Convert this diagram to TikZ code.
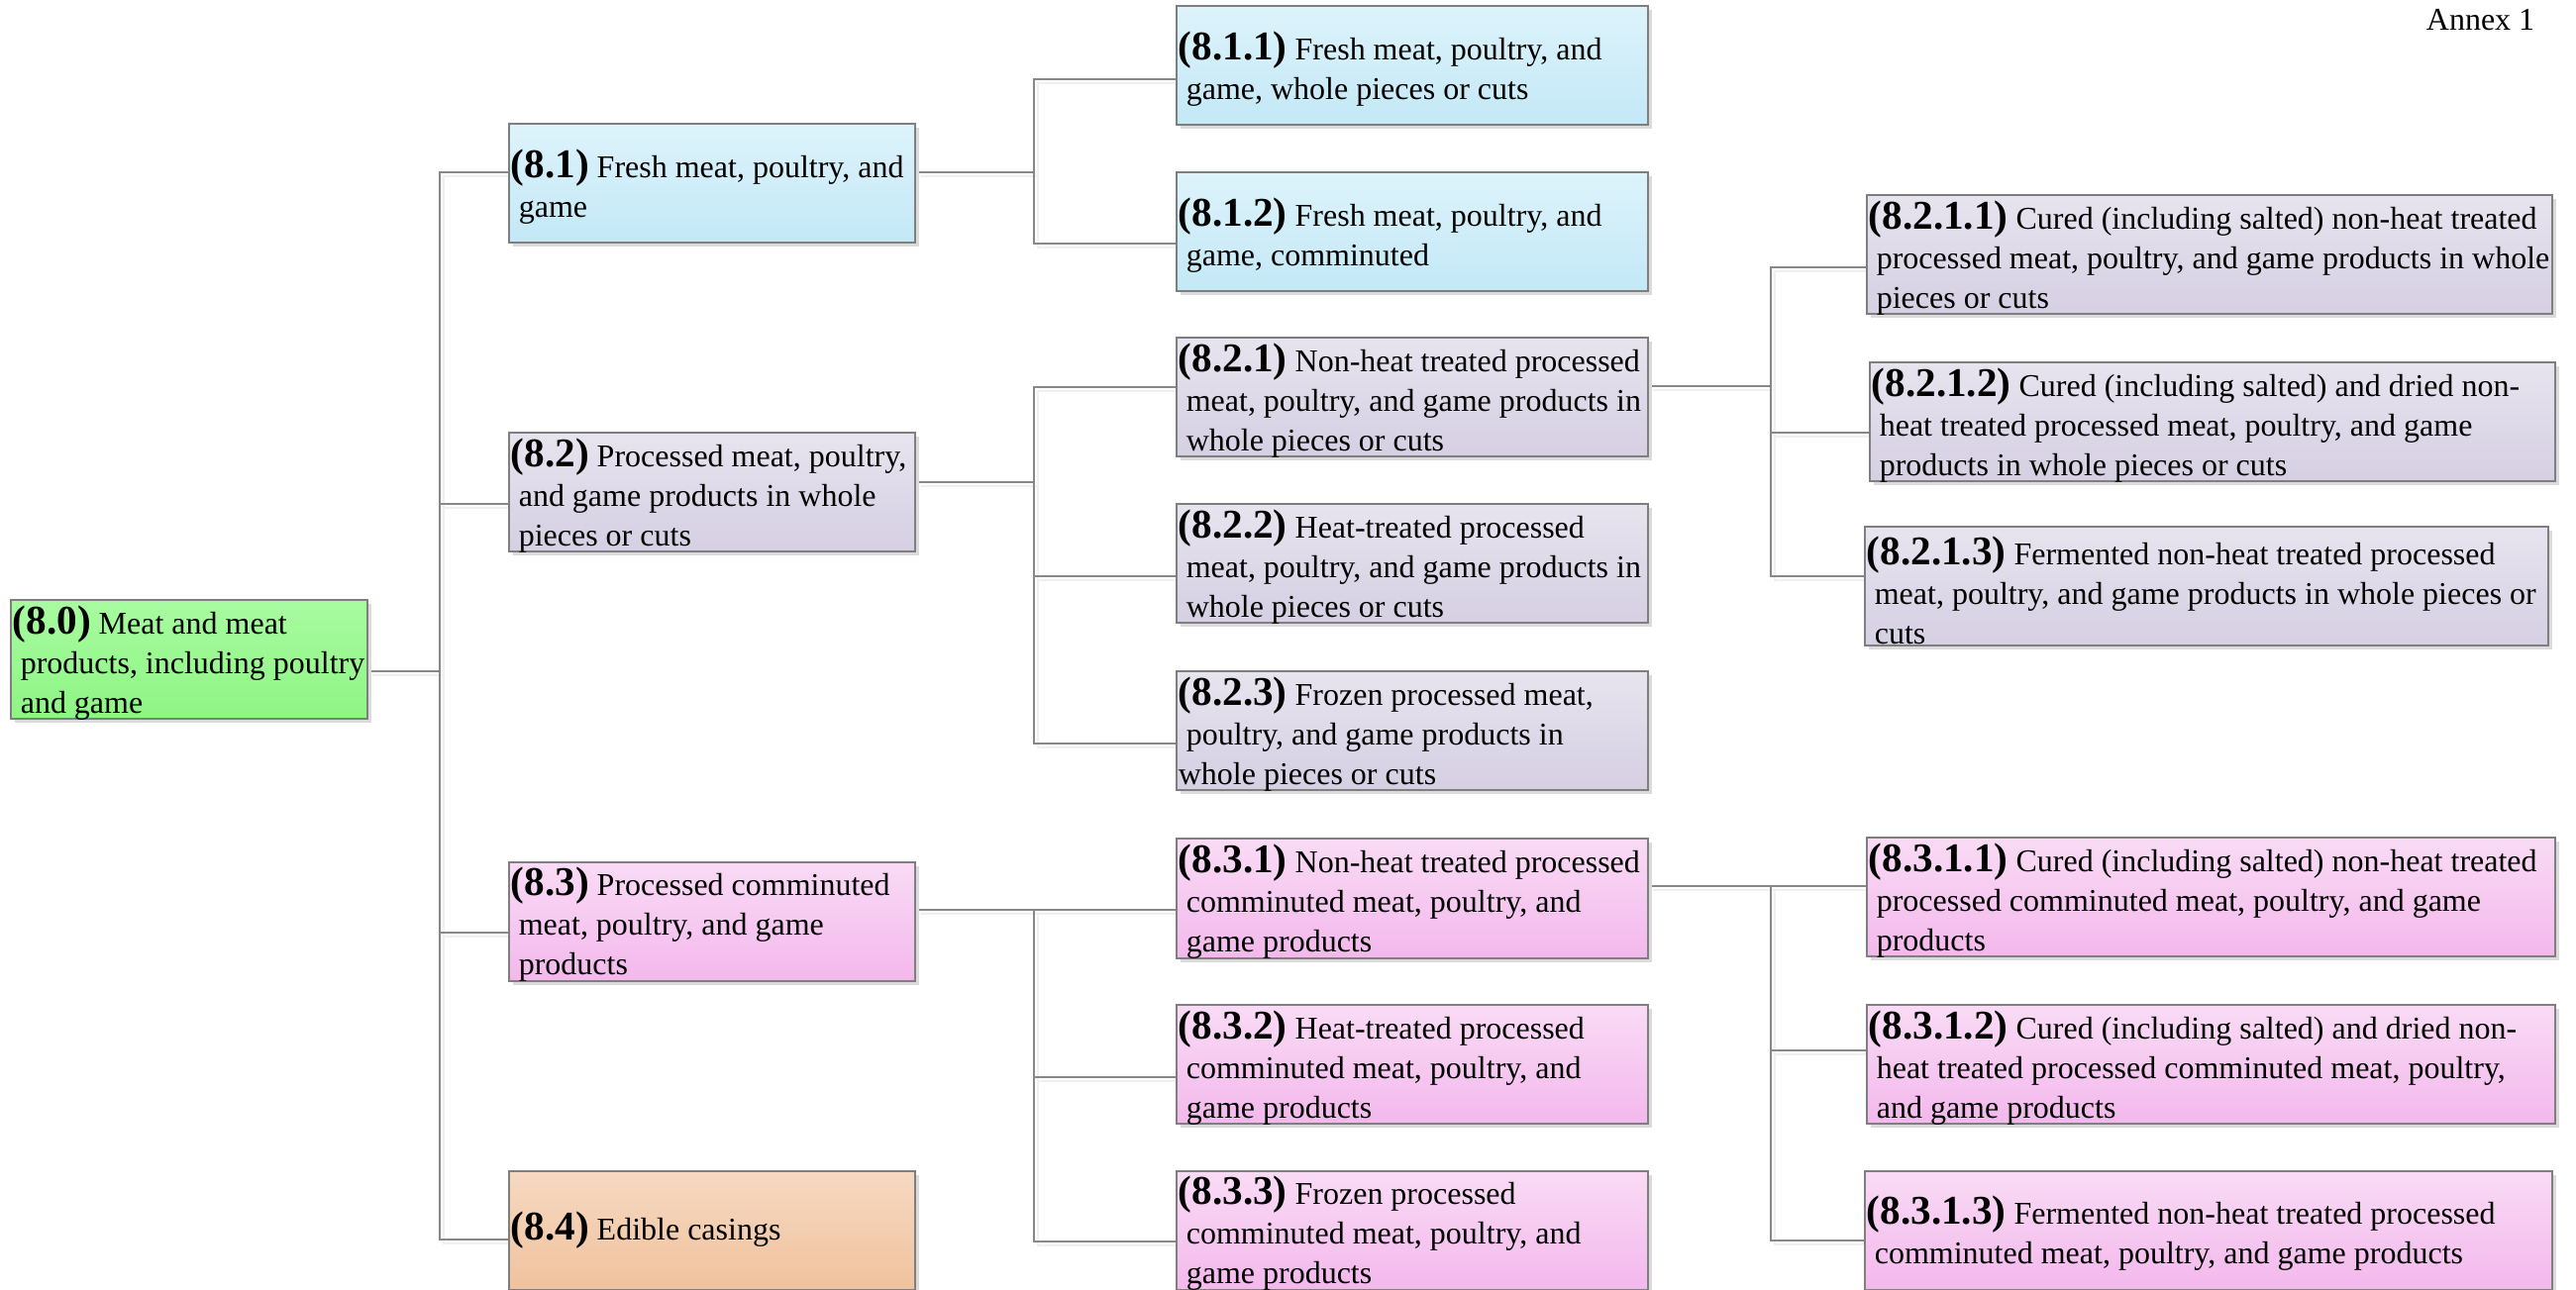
\documentclass[tikz,border=0pt]{standalone}
\usepackage{fontspec}
\setmainfont{Liberation Serif}
\usetikzlibrary{shadows}
\definecolor{grT}{HTML}{A8FBA0}
\definecolor{grB}{HTML}{8EF584}
\definecolor{blT}{HTML}{DDF3FB}
\definecolor{blB}{HTML}{C3E8F6}
\definecolor{lvT}{HTML}{E7E4EF}
\definecolor{lvB}{HTML}{D5CFE2}
\definecolor{pkT}{HTML}{F9DBF5}
\definecolor{pkB}{HTML}{F3B8EC}
\definecolor{orT}{HTML}{F6D9C2}
\definecolor{orB}{HTML}{F0C29E}
\definecolor{boxline}{HTML}{7F7F7F}
\definecolor{conline}{HTML}{888888}
\newcommand\bnum[1]{{\fontsize{10.3}{10}\selectfont\bfseries(#1)}}
\newcommand\lind{\hspace*{2pt}}
\pgfdeclarelayer{bg}
\pgfsetlayers{bg,main}
\tikzset{
  box/.style={rectangle, draw=boxline, line width=0.5pt, inner sep=0pt,
    drop shadow={shadow xshift=1pt, shadow yshift=-1pt, fill=black!14, opacity=1}},
  cgreen/.style={top color=grT, bottom color=grB},
  cblue/.style={top color=blT, bottom color=blB},
  clav/.style={top color=lvT, bottom color=lvB},
  cpink/.style={top color=pkT, bottom color=pkB},
  corange/.style={top color=orT, bottom color=orB},
  wA/.style={minimum width=90pt},
  wB/.style={minimum width=102.5pt},
  wC/.style={minimum width=119pt},
  hh/.style={minimum height=30pt},
  txt/.style={anchor=west, align=left, inner sep=0pt, font=\fontsize{8}{10}\selectfont},
  conn/.style={draw=conline, line width=0.55pt},
  connshadow/.style={draw=black!6, line width=0.55pt},
}
\newcommand\conns[1]{%
  % level 0 -> 1
  \draw[#1] ([yshift=-3pt]n80.east) -- ++(72,0) |- ([yshift=2.9pt]n81.west);
  \draw[#1] ([yshift=-3pt]n80.east) -- ++(72,0) |- ([yshift=-2.9pt]n82.west);
  \draw[#1] ([yshift=-3pt]n80.east) -- ++(72,0) |- ([yshift=-2.9pt]n83.west);
  \draw[#1] ([yshift=-3pt]n80.east) -- ++(72,0) |- ([yshift=-2.3pt]n84.west);
  % 8.1
  \draw[#1] ([yshift=2.9pt]n81.east) -- ++(119,0) |- ([yshift=-3.4pt]n811.west);
  \draw[#1] ([yshift=2.9pt]n81.east) -- ++(119,0) |- ([yshift=-3pt]n812.west);
  % 8.2
  \draw[#1] ([yshift=2.6pt]n82.east) -- ++(119,0) |- ([yshift=2.5pt]n821.west);
  \draw[#1] ([yshift=2.6pt]n82.east) -- ++(119,0) |- ([yshift=-3.2pt]n822.west);
  \draw[#1] ([yshift=2.6pt]n82.east) -- ++(119,0) |- ([yshift=-3.2pt]n823.west);
  % 8.3
  \draw[#1] ([yshift=2.9pt]n83.east) -- ++(119,0) |- ([yshift=-2.9pt]n831.west);
  \draw[#1] ([yshift=2.9pt]n83.east) -- ++(119,0) |- ([yshift=-3.2pt]n832.west);
  \draw[#1] ([yshift=2.9pt]n83.east) -- ++(119,0) |- ([yshift=-2.9pt]n833.west);
  % 8.2.1
  \draw[#1] ([yshift=2.75pt]n821.east) -- ++(123,0) |- ([yshift=-3.2pt]n8211.west);
  \draw[#1] ([yshift=2.75pt]n821.east) -- ++(123,0) |- ([yshift=-2.6pt]n8212.west);
  \draw[#1] ([yshift=2.75pt]n821.east) -- ++(123,0) |- ([yshift=2.6pt]n8213.west);
  % 8.3.1
  \draw[#1] ([yshift=3.1pt]n831.east) -- ++(123,0) |- ([yshift=2.75pt]n8311.west);
  \draw[#1] ([yshift=3.1pt]n831.east) -- ++(123,0) |- ([yshift=3.5pt]n8312.west);
  \draw[#1] ([yshift=3.1pt]n831.east) -- ++(123,0) |- ([yshift=-2.6pt]n8313.west);
}
\begin{document}
\begin{tikzpicture}[x=0.25pt, y=-0.25pt]
\useasboundingbox (0,0) rectangle (2601,1303);

\node[font=\fontsize{8}{10}\selectfont, anchor=base east, inner sep=0pt] (annex) at (2560,31) {Annex 1};

% level 0
\node[box,cgreen,wA,hh] (n80) at (191,666) {};
\node[txt] (t80) at ([xshift=0.5pt,yshift=-0.9pt]n80.west) {\bnum{8.0} Meat and meat\\\lind products, including poultry\\\lind and game};

% level 1
\node[box,cblue,wB,hh] (n81) at (719,185.5) {};
\node[txt] (t81) at ([xshift=0.5pt,yshift=-0.9pt]n81.west) {\bnum{8.1} Fresh meat, poultry, and\\\lind game};
\node[box,clav,wB,hh] (n82) at (719,497.5) {};
\node[txt] (t82) at ([xshift=0.5pt,yshift=-0.9pt]n82.west) {\bnum{8.2} Processed meat, poultry,\\\lind and game products in whole\\\lind pieces or cuts};
\node[box,cpink,wB,hh] (n83) at (719,930.5) {};
\node[txt] (t83) at ([xshift=0.5pt,yshift=-0.9pt]n83.west) {\bnum{8.3} Processed comminuted\\\lind meat, poultry, and game\\\lind products};
\node[box,corange,wB,hh] (n84) at (719,1242.5) {};
\node[txt] (t84) at ([xshift=0.5pt]n84.west) {\bnum{8.4} Edible casings};

% level 2
\node[box,cblue,wC,hh] (n811) at (1426,66.5) {};
\node[txt] (t811) at ([xshift=0.5pt,yshift=-0.9pt]n811.west) {\bnum{8.1.1} Fresh meat, poultry, and\\\lind game, whole pieces or cuts};
\node[box,cblue,wC,hh] (n812) at (1426,234) {};
\node[txt] (t812) at ([xshift=0.5pt,yshift=-0.9pt]n812.west) {\bnum{8.1.2} Fresh meat, poultry, and\\\lind game, comminuted};
\node[box,clav,wC,hh] (n821) at (1426,401) {};
\node[txt] (t821) at ([xshift=0.5pt,yshift=-0.9pt]n821.west) {\bnum{8.2.1} Non-heat treated processed\\\lind meat, poultry, and game products in\\\lind whole pieces or cuts};
\node[box,clav,wC,hh] (n822) at (1426,569) {};
\node[txt] (t822) at ([xshift=0.5pt,yshift=-0.9pt]n822.west) {\bnum{8.2.2} Heat-treated processed\\\lind meat, poultry, and game products in\\\lind whole pieces or cuts};
\node[box,clav,wC,hh] (n823) at (1426,738) {};
\node[txt] (t823) at ([xshift=0.5pt,yshift=-0.9pt]n823.west) {\bnum{8.2.3} Frozen processed meat,\\\lind poultry, and game products in\\whole pieces or cuts};
\node[box,cpink,wC,hh] (n831) at (1426,907.5) {};
\node[txt] (t831) at ([xshift=0.5pt,yshift=-0.9pt]n831.west) {\bnum{8.3.1} Non-heat treated processed\\\lind comminuted meat, poultry, and\\\lind game products};
\node[box,cpink,wC,hh] (n832) at (1426,1075) {};
\node[txt] (t832) at ([xshift=0.5pt,yshift=-0.9pt]n832.west) {\bnum{8.3.2} Heat-treated processed\\\lind comminuted meat, poultry, and\\\lind game products};
\node[box,cpink,wC,hh] (n833) at (1426,1242.5) {};
\node[txt] (t833) at ([xshift=0.5pt,yshift=-0.9pt]n833.west) {\bnum{8.3.3} Frozen processed\\\lind comminuted meat, poultry, and\\\lind game products};

% level 3
\node[box,clav,minimum width=173pt,hh] (n8211) at (2231,257) {};
\node[txt] (t8211) at ([xshift=0.5pt,yshift=-0.9pt]n8211.west) {\bnum{8.2.1.1} Cured (including salted) non-heat treated\\\lind processed meat, poultry, and game products in whole\\\lind pieces or cuts};
\node[box,clav,minimum width=173pt,hh] (n8212) at (2234,426.5) {};
\node[txt] (t8212) at ([xshift=0.5pt,yshift=-0.9pt]n8212.west) {\bnum{8.2.1.2} Cured (including salted) and dried non-\\\lind heat treated processed meat, poultry, and game\\\lind products in whole pieces or cuts};
\node[box,clav,minimum width=172.5pt,hh] (n8213) at (2228,592.5) {};
\node[txt] (t8213) at ([xshift=0.5pt,yshift=-0.9pt]n8213.west) {\bnum{8.2.1.3} Fermented non-heat treated processed\\\lind meat, poultry, and game products in whole pieces or\\\lind cuts};
\node[box,cpink,minimum width=173.75pt,hh] (n8311) at (2232.5,906) {};
\node[txt] (t8311) at ([xshift=0.5pt,yshift=-0.9pt]n8311.west) {\bnum{8.3.1.1} Cured (including salted) non-heat treated\\\lind processed comminuted meat, poultry, and game\\\lind products};
\node[box,cpink,minimum width=173.75pt,hh] (n8312) at (2232.5,1075) {};
\node[txt] (t8312) at ([xshift=0.5pt,yshift=-0.9pt]n8312.west) {\bnum{8.3.1.2} Cured (including salted) and dried non-\\\lind heat treated processed comminuted meat, poultry,\\\lind and game products};
\node[box,cpink,minimum width=173.5pt,hh] (n8313) at (2230,1242.5) {};
\node[txt] (t8313) at ([xshift=0.5pt,yshift=-0.9pt]n8313.west) {\bnum{8.3.1.3} Fermented non-heat treated processed\\\lind comminuted meat, poultry, and game products};

\begin{pgfonlayer}{bg}
  \begin{scope}[transform canvas={shift={(1pt,-1pt)}}]
    \conns{connshadow}
  \end{scope}
  \conns{conn}
\end{pgfonlayer}
\end{tikzpicture}
\end{document}
